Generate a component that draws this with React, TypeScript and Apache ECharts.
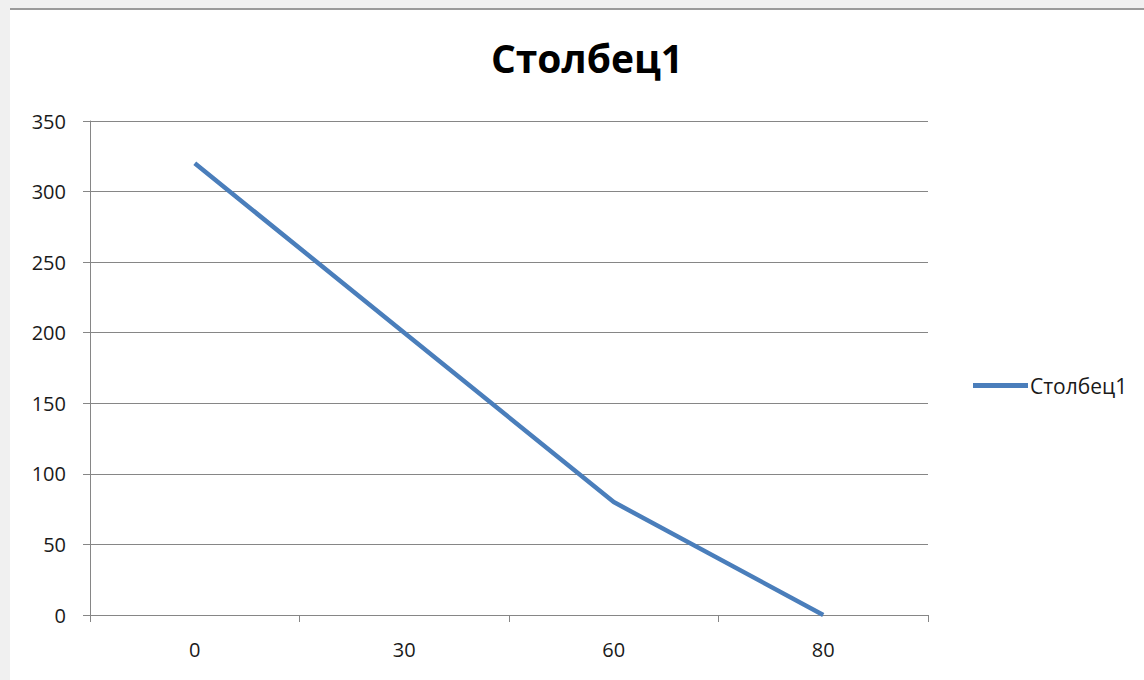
import React, { useEffect, useRef } from "react";
import * as echarts from "echarts";

const categories = ["0", "30", "60", "80"];
const values = [320, 200, 80, 0];
const seriesName = "Столбец1";
const titleText = "Столбец1";

export default function App() {
  const ref = useRef<HTMLDivElement>(null);
  useEffect(() => {
    if (!ref.current) return;
    const chart = echarts.init(ref.current, undefined, { renderer: "svg" });
    const font = "'Open Sans', 'Noto Sans', sans-serif";
    chart.setOption({
      animation: false,
      title: {
        text: titleText,
        left: 582,
        top: 33,
        textAlign: "center",
        textStyle: { fontFamily: font, fontSize: 39, fontWeight: "bold", color: "#000" },
      },
      legend: {
        orient: "vertical",
        left: 968,
        top: 370,
        icon: "rect",
        itemWidth: 55,
        itemHeight: 5,
        itemGap: 6,
        textStyle: { fontFamily: font, fontSize: 21, color: "#1a1a1a", padding: [0, 0, 0, -3] },
        data: [seriesName],
      },
      grid: { left: 90, right: 216, top: 121, bottom: 65, containLabel: false },
      xAxis: {
        type: "category",
        data: categories,
        boundaryGap: true,
        axisLine: { show: true, lineStyle: { color: "#868686", width: 1 } },
        axisTick: { show: true, length: 7, alignWithLabel: false, lineStyle: { color: "#868686" } },
        axisLabel: { fontFamily: font, fontSize: 20, color: "#1a1a1a", margin: 24 },
        splitLine: { show: false },
      },
      yAxis: {
        type: "value",
        min: 0,
        max: 350,
        interval: 50,
        axisLine: { show: true, lineStyle: { color: "#868686", width: 1 } },
        axisTick: { show: true, length: 7, lineStyle: { color: "#868686" } },
        axisLabel: { fontFamily: font, fontSize: 20, color: "#1a1a1a", margin: 24 },
        splitLine: { show: true, lineStyle: { color: "#868686", width: 1 } },
      },
      series: [
        {
          name: seriesName,
          type: "line",
          data: values,
          symbol: "none",
          lineStyle: { color: "#4a7ebb", width: 4.5 },
          itemStyle: { color: "#4a7ebb" },
        },
      ],
    });
    return () => chart.dispose();
  }, []);

  return (
    <div style={{ position: "fixed", left: 0, top: 0, width: 1144, height: 680, background: "#f0f0f0", overflow: "hidden" }}>
      <div
        style={{
          position: "absolute",
          left: 10,
          top: 8,
          width: 1134,
          height: 670,
          background: "#ffffff",
          borderTop: "2px solid #9a9a9a",
        }}
      />
      <div ref={ref} style={{ position: "absolute", left: 0, top: 0, width: 1144, height: 680 }} />
    </div>
  );
}
